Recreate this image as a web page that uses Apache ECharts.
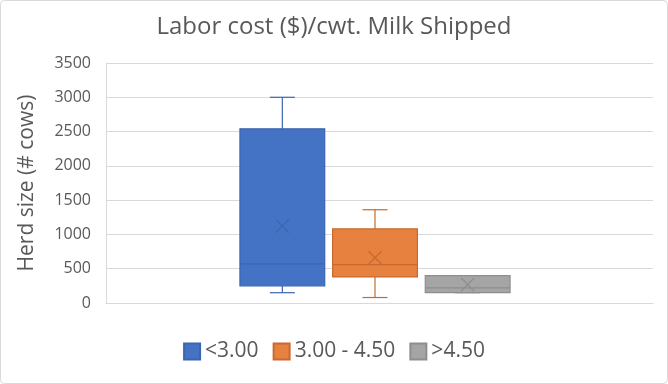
<!DOCTYPE html>
<html>
<head>
<meta charset="utf-8">
<script src="https://cdn.jsdelivr.net/npm/echarts@6/dist/echarts.min.js"></script>
<style>
html,body{margin:0;padding:0;background:#fff;}
#c{width:668px;height:384px;}
</style>
</head>
<body>
<div id="c"></div>
<script>
// Data
const categories = ['<3.00', '3.00 - 4.50', '>4.50'];
// [min, q1, median, q3, max, mean]
const stats_lt300 = [150, 250, 570, 2540, 3000, 1120];
const stats_300_450 = [80, 380, 560, 1080, 1360, 660];
const stats_gt450 = [150, 150, 220, 400, 400, 270];
const yTicks = [0, 500, 1000, 1500, 2000, 2500, 3000, 3500];

const fills = ['#4472C4', '#E7813F', '#A5A5A5'];
const strokes = ['#3C65AF', '#C9692E', '#8E8E8E'];

function renderBox(params, api) {
  const idx = api.value(0);
  const vMin = api.value(1), q1 = api.value(2), med = api.value(3), q3 = api.value(4), vMax = api.value(5), mean = api.value(6);
  const band = api.size([1, 0])[0];
  const bw = band * 0.915;
  const cx = api.coord([idx, 0])[0];
  const y = v => api.coord([idx, v])[1];
  const stroke = strokes[params.seriesIndex];
  const fill = fills[params.seriesIndex];
  const cap = 25;
  const ls = {stroke: stroke, lineWidth: 1.2};
  const m = 6.5;
  const my = y(mean);
  return {
    type: 'group',
    children: [
      {type: 'line', shape: {x1: cx, y1: y(vMax), x2: cx, y2: y(q3)}, style: ls},
      {type: 'line', shape: {x1: cx - cap / 2, y1: y(vMax), x2: cx + cap / 2, y2: y(vMax)}, style: ls},
      {type: 'line', shape: {x1: cx, y1: y(q1), x2: cx, y2: y(vMin)}, style: ls},
      {type: 'line', shape: {x1: cx - cap / 2, y1: y(vMin), x2: cx + cap / 2, y2: y(vMin)}, style: ls},
      {type: 'rect', shape: {x: cx - bw / 2, y: y(q3), width: bw, height: y(q1) - y(q3)},
        style: {fill: fill, stroke: stroke, lineWidth: 1.2}},
      {type: 'line', shape: {x1: cx - bw / 2, y1: y(med), x2: cx + bw / 2, y2: y(med)}, style: ls},
      {type: 'line', shape: {x1: cx - m, y1: my - m, x2: cx + m, y2: my + m}, style: ls},
      {type: 'line', shape: {x1: cx - m, y1: my + m, x2: cx + m, y2: my - m}, style: ls}
    ]
  };
}

const allStats = [stats_lt300, stats_300_450, stats_gt450];
const series = categories.map((name, i) => ({
  name: name,
  type: 'custom',
  xAxisIndex: 1,
  yAxisIndex: 1,
  renderItem: renderBox,
  itemStyle: {color: fills[i], borderColor: strokes[i], borderWidth: 1},
  encode: {x: 0, y: [1, 2, 3, 4, 5]},
  data: [[i].concat(allStats[i])]
}));

const chart = echarts.init(document.getElementById('c'), null, {renderer: 'canvas'});
chart.setOption({
  animation: false,
  backgroundColor: '#fff',
  title: {
    text: 'Labor cost ($)/cwt. Milk Shipped',
    left: 'center',
    top: 10,
    textStyle: {fontFamily: 'Open Sans', fontSize: 24, fontWeight: 'normal', color: '#595959'}
  },
  graphic: [{
    type: 'rect', shape: {x: 0.5, y: 0.5, width: 667, height: 383, r: 4},
    style: {fill: 'none', stroke: '#D9D9D9', lineWidth: 1}, silent: true
  }],
  legend: {
    data: categories,
    top: 336,
    left: 'center',
    itemWidth: 16,
    itemHeight: 16,
    itemGap: 14,
    itemTextGap: 6,
    icon: 'rect',
    textStyle: {fontFamily: 'Open Sans', fontSize: 21, color: '#595959'}
  },
  grid: [
    {left: 106, right: 15, top: 63, bottom: 81},
    {left: 236, right: 154, top: 63, bottom: 81}
  ],
  xAxis: [
    {gridIndex: 0, type: 'category', data: [''], axisLine: {show: true, lineStyle: {color: '#D9D9D9'}},
      axisTick: {show: false}, axisLabel: {show: false}},
    {gridIndex: 1, type: 'category', data: categories, show: false}
  ],
  yAxis: [
    {gridIndex: 0, type: 'value', min: yTicks[0], max: yTicks[yTicks.length - 1], interval: 500,
      name: 'Herd size (# cows)', nameLocation: 'middle', nameGap: 68,
      nameTextStyle: {fontFamily: 'Open Sans', fontSize: 21, color: '#595959'},
      axisLine: {show: true, lineStyle: {color: '#D9D9D9'}},
      axisTick: {show: false},
      axisLabel: {fontFamily: 'Open Sans', fontSize: 16, color: '#595959', margin: 15,
        formatter: v => String(v)},
      splitLine: {lineStyle: {color: '#D9D9D9'}}},
    {gridIndex: 1, type: 'value', min: yTicks[0], max: yTicks[yTicks.length - 1], show: false,
      splitLine: {show: false}}
  ],
  series: series
});
</script>
</body>
</html>
